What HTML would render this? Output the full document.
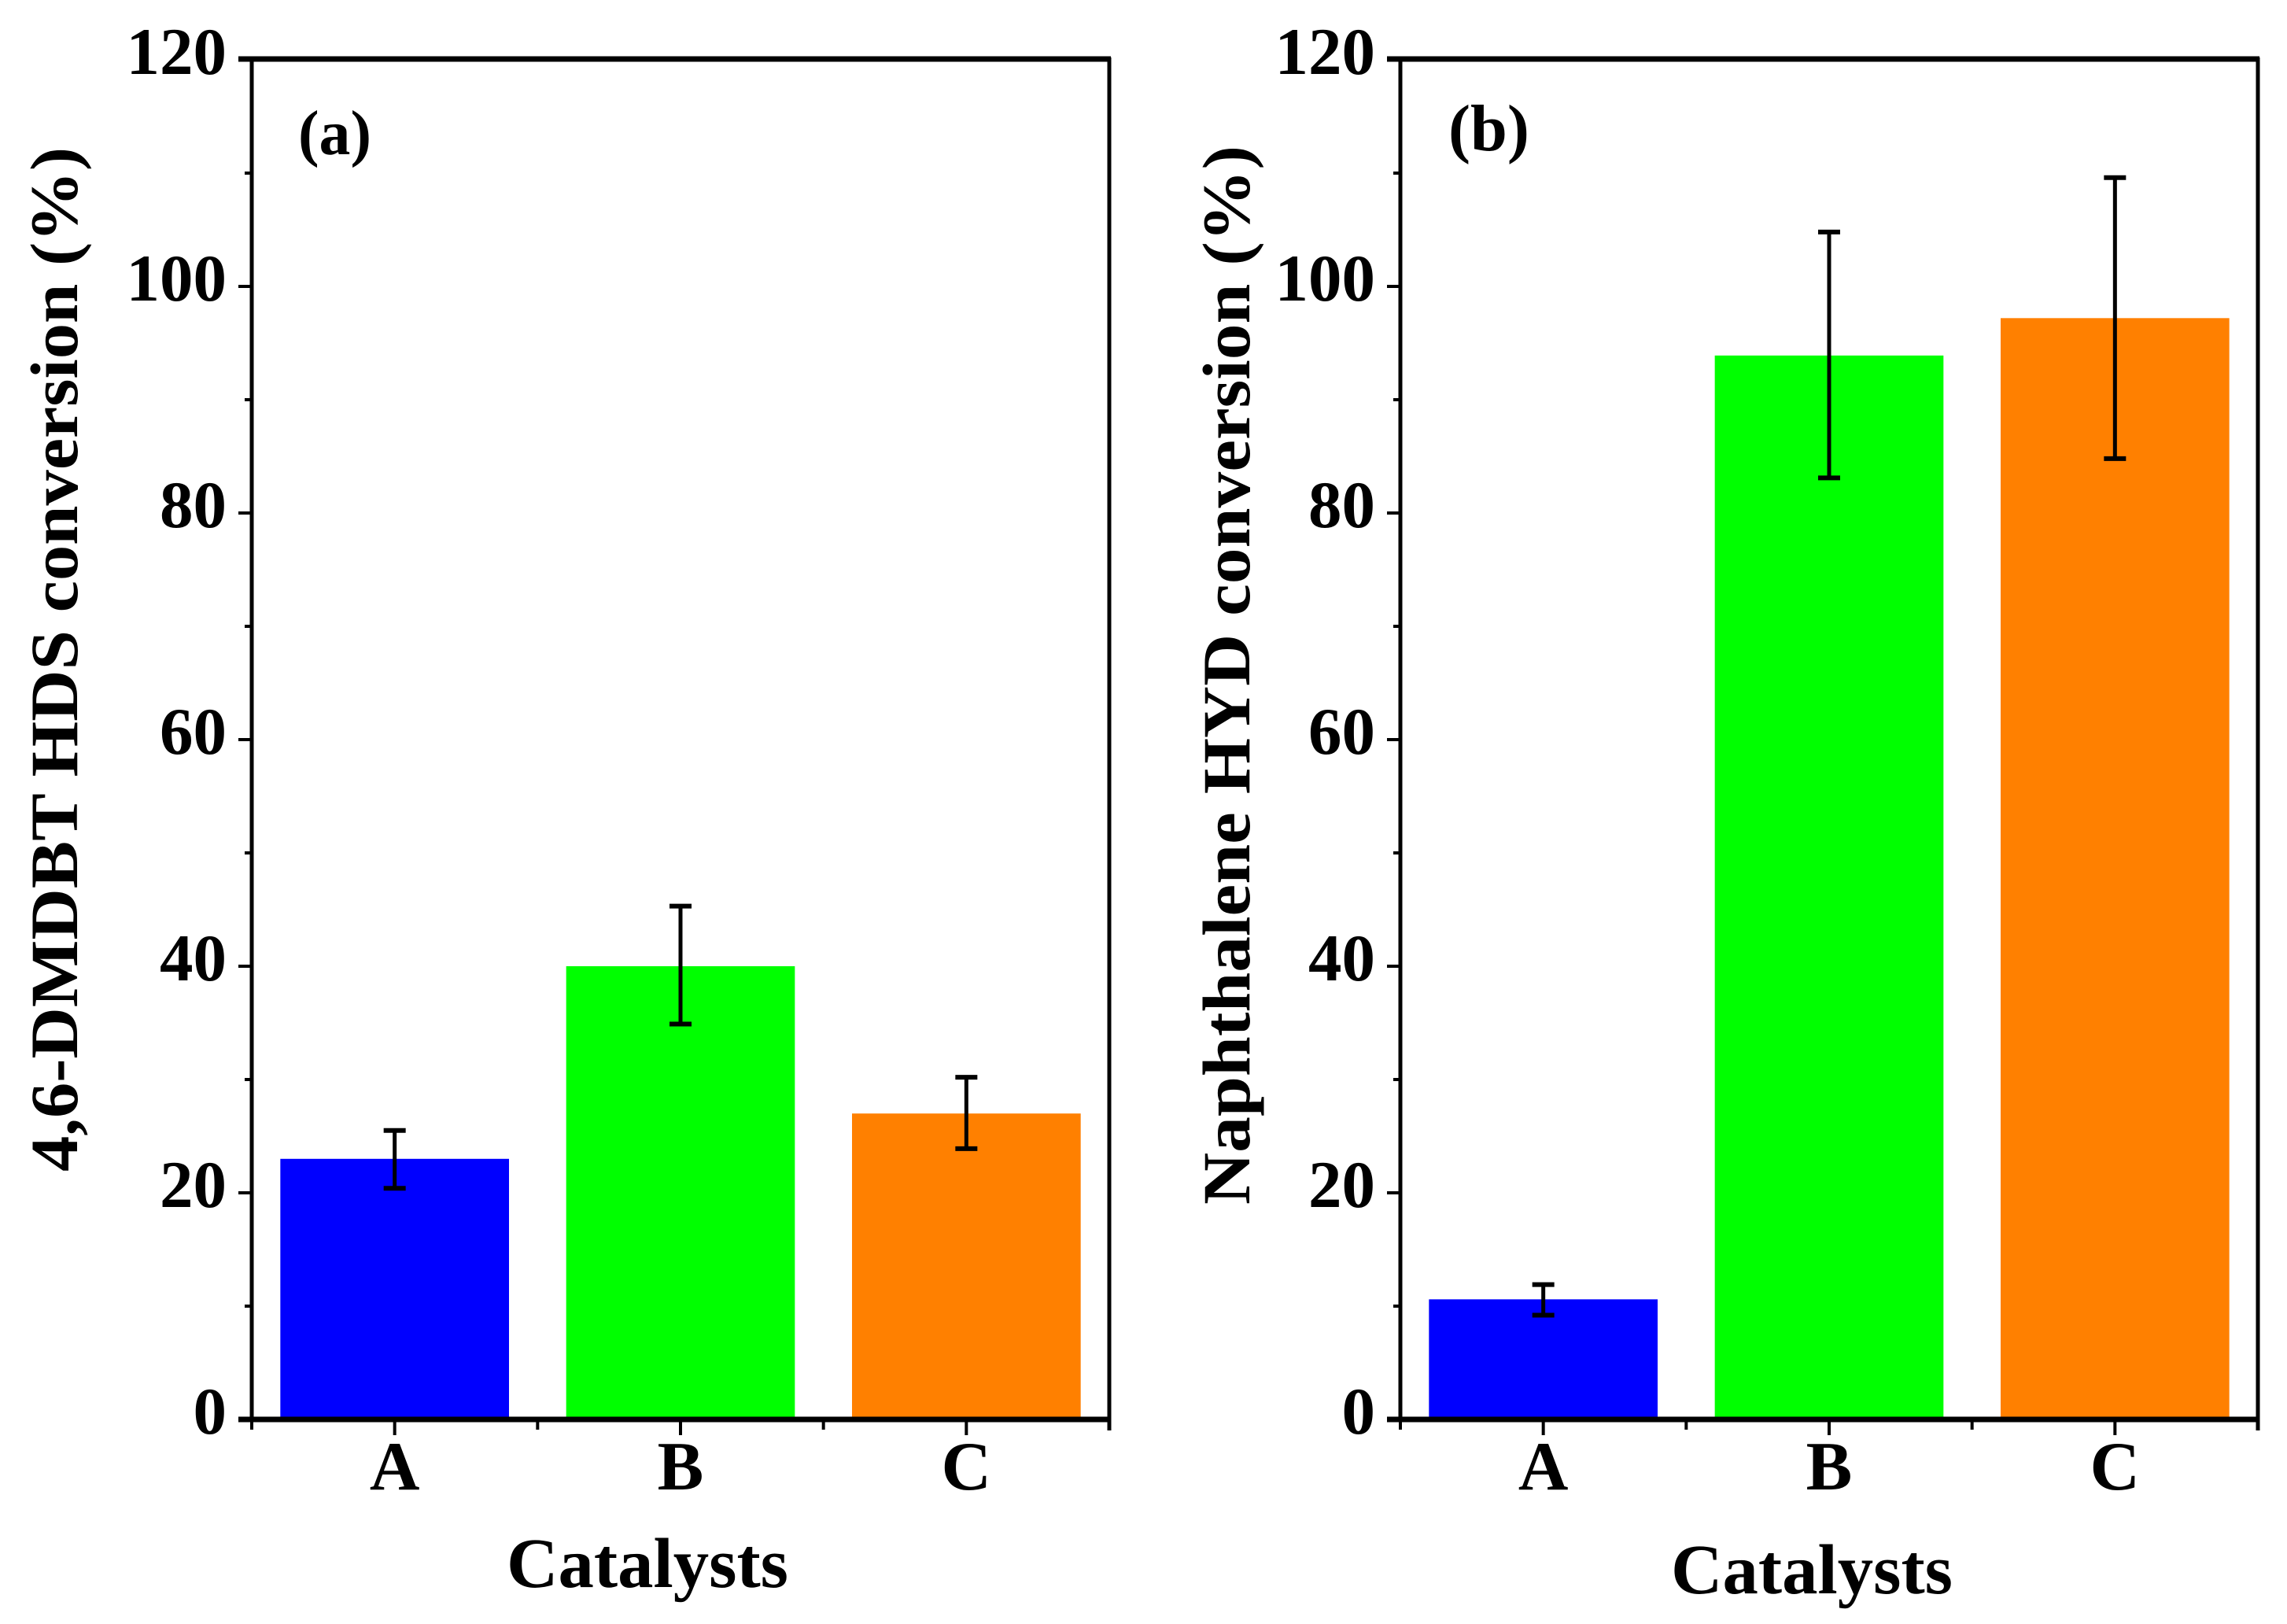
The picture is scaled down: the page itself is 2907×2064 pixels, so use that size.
<!DOCTYPE html>
<html>
<head>
<meta charset="utf-8">
<title>Catalyst conversion bar charts</title>
<style>
html,body{margin:0;padding:0;background:#fff;}
svg{display:block;}
text{font-family:"Liberation Serif",serif;font-weight:bold;fill:#000;}
</style>
</head>
<body>
<svg id="chart" xmlns="http://www.w3.org/2000/svg" width="2907" height="2064" viewBox="0 0 2907 2064">
<rect x="0" y="0" width="2907" height="2064" fill="#fff"/>
<g id="panel-a">
<text x="379" y="196" font-size="80" textLength="93" lengthAdjust="spacingAndGlyphs">(a)</text>
<text transform="translate(98,1489) rotate(-90)" font-size="86" textLength="1302" lengthAdjust="spacingAndGlyphs">4,6-DMDBT HDS conversion (%)</text>
<text x="644" y="2017" font-size="90" textLength="358" lengthAdjust="spacingAndGlyphs">Catalysts</text>
</g>
<g id="panel-b">
<text x="1841" y="191" font-size="84" textLength="103" lengthAdjust="spacingAndGlyphs">(b)</text>
<text transform="translate(1588,1531) rotate(-90)" font-size="86" textLength="1346" lengthAdjust="spacingAndGlyphs">Naphthalene HYD conversion (%)</text>
<text x="2124" y="2025" font-size="90" textLength="358" lengthAdjust="spacingAndGlyphs">Catalysts</text>
</g>
</svg>
<script>
const categories = ['A', 'B', 'C'];
const barColors = ['#0000ff', '#00ff00', '#ff8000'];
const yTickLabels = [0, 20, 40, 60, 80, 100, 120];
const yMinorTicks = [10, 30, 50, 70, 90, 110];
const hdsValues = [23, 40, 27];
const hdsErrorHigh = [25.5, 45.3, 30.2];
const hdsErrorLow = [20.4, 34.9, 23.9];
const hydValues = [10.6, 93.9, 97.2];
const hydErrorHigh = [11.9, 104.8, 109.6];
const hydErrorLow = [9.2, 83.1, 84.8];

const NS = 'http://www.w3.org/2000/svg';
const Y_ZERO = 1804;
const Y_MAX_PIXEL = 76;
const Y_MAX = 120;
function yScale(v) {
  return Y_ZERO - (v / Y_MAX) * (Y_ZERO - Y_MAX_PIXEL);
}
function bandScale(left, right, i) {
  return left + (i / categories.length) * (right - left);
}
function makeLine(parent, x1, y1, x2, y2, w, name) {
  const el = document.createElementNS(NS, 'line');
  el.setAttribute('x1', x1);
  el.setAttribute('y1', y1);
  el.setAttribute('x2', x2);
  el.setAttribute('y2', y2);
  el.setAttribute('stroke', '#000');
  el.setAttribute('stroke-width', w);
  
  
  parent.appendChild(el);
}
function makeText(parent, x, y, size, anchor, str, name) {
  const el = document.createElementNS(NS, 'text');
  el.setAttribute('x', x);
  el.setAttribute('y', y);
  el.setAttribute('font-size', size);
  el.setAttribute('text-anchor', anchor);
  
  
  el.textContent = str;
  parent.appendChild(el);
}
function drawPanel(id, left, right, values, high, low) {
  const g = document.getElementById(id);
  const band = (right - left) / categories.length;
  const barWidth = band * 0.8;
  categories.forEach(function (c, i) {
    const cx = bandScale(left, right, i + 0.5);
    const top = yScale(values[i]);
    const bar = document.createElementNS(NS, 'rect');
    bar.setAttribute('x', cx - barWidth / 2);
    bar.setAttribute('y', top);
    bar.setAttribute('width', barWidth);
    bar.setAttribute('height', Y_ZERO - top);
    bar.setAttribute('fill', barColors[i]);
    
    
    g.appendChild(bar);
  });
  categories.forEach(function (c, i) {
    const cx = bandScale(left, right, i + 0.5);
    makeLine(g, cx, yScale(high[i]), cx, yScale(low[i]), 5, id + '-error-stem-' + c);
    makeLine(g, cx - 14, yScale(high[i]), cx + 14, yScale(high[i]), 6, id + '-error-cap-high-' + c);
    makeLine(g, cx - 14, yScale(low[i]), cx + 14, yScale(low[i]), 6, id + '-error-cap-low-' + c);
  });
  makeLine(g, left, Y_MAX_PIXEL - 3, left, Y_ZERO + 3, 5, id + '-y-axis-line');
  makeLine(g, right, Y_MAX_PIXEL - 3, right, Y_ZERO + 14, 5, id + '-right-axis-line');
  makeLine(g, left - 17, Y_MAX_PIXEL - 1, right + 2, Y_MAX_PIXEL - 1, 7, id + '-top-axis-line');
  makeLine(g, left - 17, Y_ZERO, right + 2, Y_ZERO, 7, id + '-x-axis-line');
  yTickLabels.forEach(function (v) {
    if (v !== 0 && v !== 120) {
      makeLine(g, left - 17, yScale(v), left, yScale(v), 4, id + '-y-major-tick-' + v);
    }
    makeText(g, left - 32, yScale(v) + 18, 85, 'end', String(v), id + '-y-tick-label-' + v);
  });
  yMinorTicks.forEach(function (v) {
    makeLine(g, left - 9, yScale(v), left, yScale(v), 4, id + '-y-minor-tick-' + v);
  });
  categories.forEach(function (c, i) {
    const cx = bandScale(left, right, i + 0.5);
    makeLine(g, cx, Y_ZERO, cx, Y_ZERO + 20, 4, id + '-x-major-tick-' + c);
    makeText(g, cx, 1893, 88, 'middle', c, id + '-x-tick-label-' + c);
  });
  categories.concat(['end']).forEach(function (c, i) {
    const bx = bandScale(left, right, i);
    makeLine(g, bx, Y_ZERO, bx, Y_ZERO + 13, 4, id + '-x-minor-tick-' + i);
  });
}
drawPanel('panel-a', 320, 1410, hdsValues, hdsErrorHigh, hdsErrorLow);
drawPanel('panel-b', 1780, 2870, hydValues, hydErrorHigh, hydErrorLow);
</script>
</body>
</html>
